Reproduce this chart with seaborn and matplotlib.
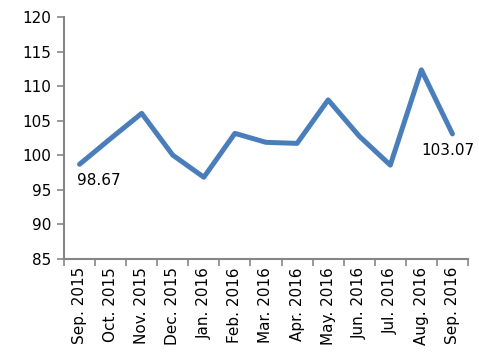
import matplotlib
matplotlib.use("Agg")
import matplotlib.pyplot as plt
import seaborn as sns
import pandas as pd
import numpy as np

months = ["Sep. 2015", "Oct. 2015", "Nov. 2015", "Dec. 2015", "Jan. 2016", "Feb. 2016",
          "Mar. 2016", "Apr. 2016", "May. 2016", "Jun. 2016", "Jul. 2016", "Aug. 2016", "Sep. 2016"]
values = [98.67, 102.4, 106.05, 100.0, 96.8, 103.15, 101.85, 101.7, 108.0, 102.75, 98.55, 112.35, 103.07]
y_ticks = [85, 90, 95, 100, 105, 110, 115, 120]

sns.set_style("white")
plt.rcParams['font.family'] = ['DejaVu Sans']
plt.rcParams['text.color'] = 'black'
plt.rcParams['xtick.color'] = 'black'
plt.rcParams['ytick.color'] = 'black'

df = pd.DataFrame({"pos": np.arange(len(months)), "value": values})

fig = plt.figure(figsize=(4.79, 3.59), dpi=100)
ax = fig.add_axes([0.1336, 0.2794, 0.977 - 0.1336, 0.9526 - 0.2794])
sns.lineplot(data=df, x="pos", y="value", ax=ax, color="#4A7EBB", linewidth=3.6)

ax.set_xlim(-0.5, len(months) - 0.5)
ax.set_ylim(85, 120)
ax.set_yticks(y_ticks)
ax.set_xticks(np.arange(len(months)))
ax.set_xticklabels(months, rotation=90, fontsize=11)
ax.set_xticks(np.arange(-0.5, len(months)), minor=True)
ax.tick_params(axis="x", which="major", bottom=True, length=0, pad=6, labelcolor="black")
ax.tick_params(axis="x", which="minor", bottom=True, length=5, width=1.2, color="#868686", direction="out")
ax.tick_params(axis="y", which="major", left=True, length=5, width=1.2, color="#868686", direction="out",
               labelsize=11, pad=4, labelcolor="black")
ax.set_xlabel("")
ax.set_ylabel("")

for s in ["top", "right"]:
    ax.spines[s].set_visible(False)
for s in ["left", "bottom"]:
    ax.spines[s].set_color("#868686")
    ax.spines[s].set_linewidth(1.5)

ax.annotate(f"{values[0]:.2f}", (0, values[0]), xytext=(14, -11.5), textcoords="offset points",
            ha="center", va="center", fontsize=11, color="black")
ax.annotate(f"{values[-1]:.2f}", (len(months) - 1, values[-1]), xytext=(-3.6, -12),
            textcoords="offset points", ha="center", va="center", fontsize=11, color="black")

fig.savefig("out.png", dpi=100)
